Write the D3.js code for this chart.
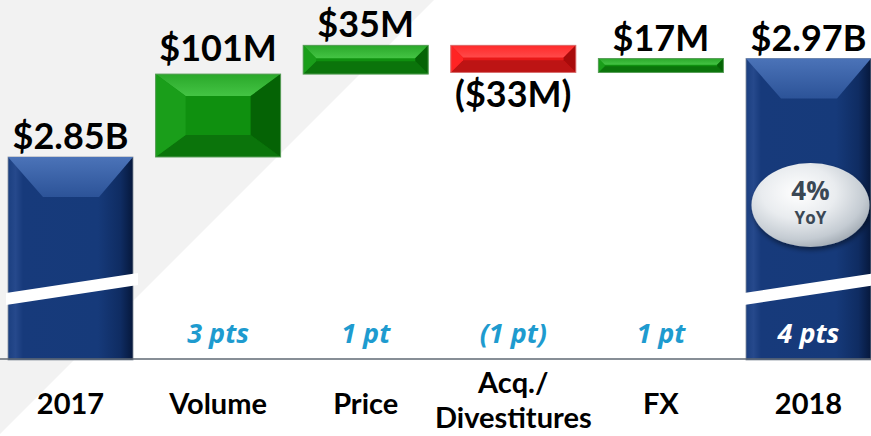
<!DOCTYPE html>
<html>
<head>
<meta charset="utf-8">
<script src="https://cdn.jsdelivr.net/npm/d3@7"></script>
<style>
  html, body { margin: 0; padding: 0; background: #fff; }
  svg { display: block; font-family: Lato, "Open Sans", sans-serif; }
</style>
</head>
<body>
<div id="chart"></div>
<script>
// data
const categories = ["2017", "Volume", "Price", "Acq./\nDivestitures", "FX", "2018"];
const kinds = ["total", "delta", "delta", "delta", "delta", "total"];
const values = [2850, 101, 35, -33, 17, 2970]; // $M
const valueLabels = ["$2.85B", "$101M", "$35M", "($33M)", "$17M", "$2.97B"];
const ptsLabels = ["", "3 pts", "1 pt", "(1 pt)", "1 pt", "4 pts"];
const yoyLabels = ["4%", "YoY"];

const width = 871, height = 436;
const axisY = 359;

const svg = d3.select("#chart").append("svg")
  .attr("width", width)
  .attr("height", height);

const defs = svg.append("defs");

// blue bar body: horizontal shading
const gBlue = defs.append("linearGradient").attr("id", "blueBody");
[[0, "#1b3f80"], [0.06, "#26498c"], [0.12, "#173a7b"], [0.72, "#163a7a"], [0.9, "#0f2c62"], [1, "#06183c"]]
  .forEach(([o, c]) => gBlue.append("stop").attr("offset", o).attr("stop-color", c));
const gBlueTop = defs.append("linearGradient").attr("id", "blueTop")
  .attr("x1", 0).attr("y1", 0).attr("x2", 0).attr("y2", 1);
[[0, "#4b73b8"], [1, "#2c5398"]]
  .forEach(([o, c]) => gBlueTop.append("stop").attr("offset", o).attr("stop-color", c));

// soft vertical shading for the bevel top faces
const topFace = (id, c1, c2) => {
  const g = defs.append("linearGradient").attr("id", id)
    .attr("x1", 0).attr("y1", 0).attr("x2", 0).attr("y2", 1);
  g.append("stop").attr("offset", 0).attr("stop-color", c1);
  g.append("stop").attr("offset", 1).attr("stop-color", c2);
};
topFace("greenTop", "#2aa82a", "#44c444");
topFace("redTop", "#ff2a2a", "#ff4a4a");

const bubbleGrad = defs.append("radialGradient").attr("id", "bubble")
  .attr("cx", "40%").attr("cy", "35%").attr("r", "70%");
[[0, "#ffffff"], [0.45, "#e9ecef"], [0.8, "#c4cbd2"], [1, "#9ea7b0"]]
  .forEach(([o, c]) => bubbleGrad.append("stop").attr("offset", o).attr("stop-color", c));
const shadow = defs.append("filter").attr("id", "shadow")
  .attr("x", "-20%").attr("y", "-20%").attr("width", "140%").attr("height", "150%");
shadow.append("feDropShadow").attr("dx", 1).attr("dy", 3).attr("stdDeviation", 2.5)
  .attr("flood-color", "#000").attr("flood-opacity", 0.45);

// scales
const x = d3.scaleBand()
  .domain(categories)
  .range([8, 871])
  .paddingInner(0.153)
  .paddingOuter(0);

const y = d3.scaleLinear()
  .domain([2850, 2970])
  .range([157, 58.5]);

// running totals for the waterfall
let cum = 0;
const bars = categories.map((c, i) => {
  let lo, hi;
  if (kinds[i] === "total") {
    cum = values[i];
    lo = null; hi = values[i];
  } else {
    lo = cum; hi = cum + values[i];
    cum = hi;
  }
  return { cat: c, kind: kinds[i], value: values[i], lo, hi, label: valueLabels[i], pts: ptsLabels[i] };
});

// background diagonal
svg.append("path")
  .attr("d", "M0,0 L434,0 L0,434 Z")
  .attr("fill", "#f2f2f2");

const palettes = {
  up:   { top: "url(#greenTop)", left: "#1a9e1a", mid: "#0f900f", right: "#056305", bottom: "#0b740b", stroke: "#5a9e5a" },
  down: { top: "url(#redTop)", left: "#ff2424", mid: "#e81818", right: "#a80b0b", bottom: "#bd1414", stroke: "#d87070" }
};

function bevelBar(g, bx, by, w, h, p) {
  const ix = Math.min(h * 0.45, 30), iy = Math.min(h * 0.45, 22);
  g.append("rect").attr("x", bx).attr("y", by).attr("width", w).attr("height", h).attr("fill", p.mid);
  const face = (pts, fill) => g.append("polygon").attr("points", pts.map(d => d.join(",")).join(" ")).attr("fill", fill);
  face([[bx, by], [bx + w, by], [bx + w - ix, by + iy], [bx + ix, by + iy]], p.top);
  face([[bx, by + h], [bx + w, by + h], [bx + w - ix, by + h - iy], [bx + ix, by + h - iy]], p.bottom);
  face([[bx, by], [bx + ix, by + iy], [bx + ix, by + h - iy], [bx, by + h]], p.left);
  face([[bx + w, by], [bx + w - ix, by + iy], [bx + w - ix, by + h - iy], [bx + w, by + h]], p.right);
  g.append("rect").attr("x", bx).attr("y", by).attr("width", w).attr("height", h)
    .attr("fill", "none").attr("stroke", p.stroke).attr("stroke-width", 1);
}

const barG = svg.append("g");
const bw = x.bandwidth();

bars.forEach(d => {
  const bx = x(d.cat);
  const g = barG.append("g");
  if (d.kind === "total") {
    const top = y(d.hi), h = axisY + 1 - top;
    g.append("rect").attr("x", bx).attr("y", top).attr("width", bw).attr("height", h)
      .attr("fill", "url(#blueBody)").attr("stroke", "#8a93a0").attr("stroke-width", 0.8);
    g.append("polygon")
      .attr("points", [[bx, top], [bx + bw, top], [bx + bw - 34, top + 40], [bx + 35, top + 40]].map(p => p.join(",")).join(" "))
      .attr("fill", "url(#blueTop)");
    // axis break mark
    const yl = axisY - 60, yr = axisY - 80, t = 12;
    g.append("polygon")
      .attr("points", [[bx - 2, yl - t / 2], [bx + bw + 5, yr - t / 2], [bx + bw + 5, yr + t / 2], [bx - 2, yl + t / 2]]
        .map(p => p.join(",")).join(" "))
      .attr("fill", "#fff");
  } else {
    const top = y(Math.max(d.lo, d.hi)), bot = y(Math.min(d.lo, d.hi));
    bevelBar(g, bx, top, bw, bot - top, d.value >= 0 ? palettes.up : palettes.down);
  }
});

// axis line
svg.append("line")
  .attr("x1", 0).attr("x2", width)
  .attr("y1", axisY).attr("y2", axisY)
  .attr("stroke", "#5f6973").attr("stroke-width", 1.5);

// value labels
svg.append("g").selectAll("text")
  .data(bars)
  .join("text")
  .attr("x", d => x(d.cat) + bw / 2)
  .attr("y", d => d.value < 0 ? y(d.hi) + 35 : y(d.hi) - (d.kind === "delta" && d.value > 50 ? 13 : 8))
  .attr("text-anchor", "middle")
  .attr("font-size", 36)
  .attr("font-weight", 700)
  .attr("fill", "#000")
  .text(d => d.label);

// pts labels
svg.append("g").selectAll("text")
  .data(bars.filter(d => d.pts))
  .join("text")
  .attr("x", d => x(d.cat) + bw / 2)
  .attr("y", axisY - 16)
  .attr("text-anchor", "middle")
  .attr("font-family", "'Open Sans', sans-serif")
  .attr("font-size", 27)
  .attr("font-weight", 700)
  .attr("font-style", "italic")
  .attr("fill", d => d.kind === "total" ? "#fff" : "#1e9bcf")
  .text(d => d.pts);

// category labels
const catG = svg.append("g");
categories.forEach(c => {
  const lines = c.split("\n");
  const t = catG.append("text")
    .attr("x", x(c) + bw / 2)
    .attr("y", lines.length > 1 ? 393 : 414)
    .attr("text-anchor", "middle")
    .attr("font-size", 29)
    .attr("font-weight", 700)
    .attr("fill", "#000");
  lines.forEach((l, i) => t.append("tspan").attr("x", x(c) + bw / 2).attr("dy", i ? 35 : 0).text(l));
});

// YoY bubble on 2018 bar
const last = bars[bars.length - 1];
const cx = x(last.cat) + bw / 2 + 2, cy = 205;
svg.append("ellipse")
  .attr("cx", cx).attr("cy", cy).attr("rx", 59).attr("ry", 42)
  .attr("fill", "url(#bubble)").attr("filter", "url(#shadow)");
svg.append("text")
  .attr("x", cx).attr("y", cy - 5)
  .attr("text-anchor", "middle").attr("font-family", "'Open Sans', sans-serif")
  .attr("font-size", 26).attr("font-weight", 700)
  .attr("fill", "#3b4855").text(yoyLabels[0]);
svg.append("text")
  .attr("x", cx).attr("y", cy + 19)
  .attr("text-anchor", "middle").attr("font-family", "'Open Sans', sans-serif")
  .attr("font-size", 17).attr("font-weight", 700)
  .attr("fill", "#3b4855").text(yoyLabels[1]);
</script>
</body>
</html>
